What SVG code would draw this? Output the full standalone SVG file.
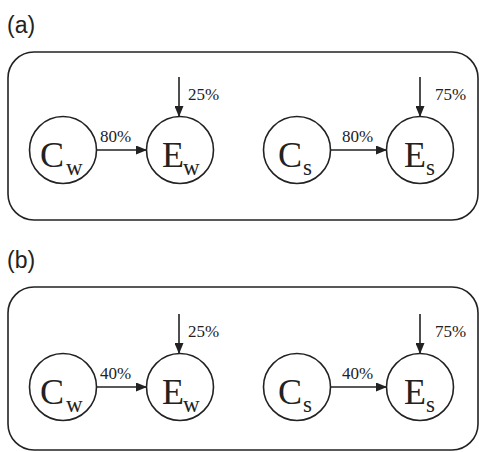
<svg xmlns="http://www.w3.org/2000/svg" width="479" height="452" viewBox="0 0 479 452">
<style>
.box{fill:none;stroke:#222;stroke-width:1.6}
.node{fill:#fff;stroke:#222;stroke-width:1.6}
.edge{stroke:#222;stroke-width:1.6;fill:none}
.lab{font-family:"Liberation Sans",Arial,sans-serif;font-size:23px;fill:#222}
.big{font-family:"Liberation Serif","Times New Roman",serif;font-size:36px;fill:#222}
.sub{font-family:"Liberation Serif","Times New Roman",serif;font-size:23px;fill:#222}
.pct{font-family:"Liberation Serif","Times New Roman",serif;font-size:17px;fill:#222}
</style>
<defs>
<marker id="ah" markerWidth="11" markerHeight="9" refX="11" refY="4.5" orient="auto" markerUnits="userSpaceOnUse">
<path d="M0,0 L11,4.5 L0,9 Z" fill="#222"/>
</marker>
</defs>
<text class="lab" x="7" y="33">(a)</text>
<rect class="box" x="8" y="52" width="470" height="168" rx="26"/>
<text class="lab" x="7" y="268">(b)</text>
<rect class="box" x="8" y="287" width="470" height="163" rx="26"/>

<g id="connectors">
<line class="edge" x1="97" y1="150" x2="147" y2="150" marker-end="url(#ah)"/>
<line class="edge" x1="179" y1="77" x2="179" y2="117" marker-end="url(#ah)"/>
<line class="edge" x1="331" y1="150" x2="387" y2="150" marker-end="url(#ah)"/>
<line class="edge" x1="420" y1="77" x2="420" y2="117" marker-end="url(#ah)"/>
<line class="edge" x1="97" y1="387" x2="147" y2="387" marker-end="url(#ah)"/>
<line class="edge" x1="179" y1="314" x2="179" y2="354" marker-end="url(#ah)"/>
<line class="edge" x1="331" y1="387" x2="387" y2="387" marker-end="url(#ah)"/>
<line class="edge" x1="420" y1="314" x2="420" y2="354" marker-end="url(#ah)"/>
<text class="pct" x="100" y="142">80%</text>
<text class="pct" x="188" y="100">25%</text>
<text class="pct" x="342" y="142">80%</text>
<text class="pct" x="435" y="100">75%</text>
<text class="pct" x="100" y="379">40%</text>
<text class="pct" x="188" y="337">25%</text>
<text class="pct" x="342" y="379">40%</text>
<text class="pct" x="435" y="337">75%</text>
</g>

<g id="a-Cw"><circle class="node" cx="63" cy="150" r="33.5"/><text class="big" x="40" y="167">C</text><text class="sub" x="66" y="175">w</text></g>
<g id="a-Ew"><circle class="node" cx="180" cy="150" r="33.5"/><text class="big" x="162" y="167">E</text><text class="sub" x="183" y="175">w</text></g>
<g id="a-Cs"><circle class="node" cx="297" cy="150" r="33.5"/><text class="big" x="278" y="167">C</text><text class="sub" x="303" y="175">s</text></g>
<g id="a-Es"><circle class="node" cx="420" cy="150" r="33.5"/><text class="big" x="404" y="167">E</text><text class="sub" x="426" y="175">s</text></g>

<g id="b-Cw"><circle class="node" cx="63" cy="387" r="33.5"/><text class="big" x="40" y="404">C</text><text class="sub" x="66" y="412">w</text></g>
<g id="b-Ew"><circle class="node" cx="180" cy="387" r="33.5"/><text class="big" x="162" y="404">E</text><text class="sub" x="183" y="412">w</text></g>
<g id="b-Cs"><circle class="node" cx="297" cy="387" r="33.5"/><text class="big" x="278" y="404">C</text><text class="sub" x="303" y="412">s</text></g>
<g id="b-Es"><circle class="node" cx="420" cy="387" r="33.5"/><text class="big" x="404" y="404">E</text><text class="sub" x="426" y="412">s</text></g>
</svg>
